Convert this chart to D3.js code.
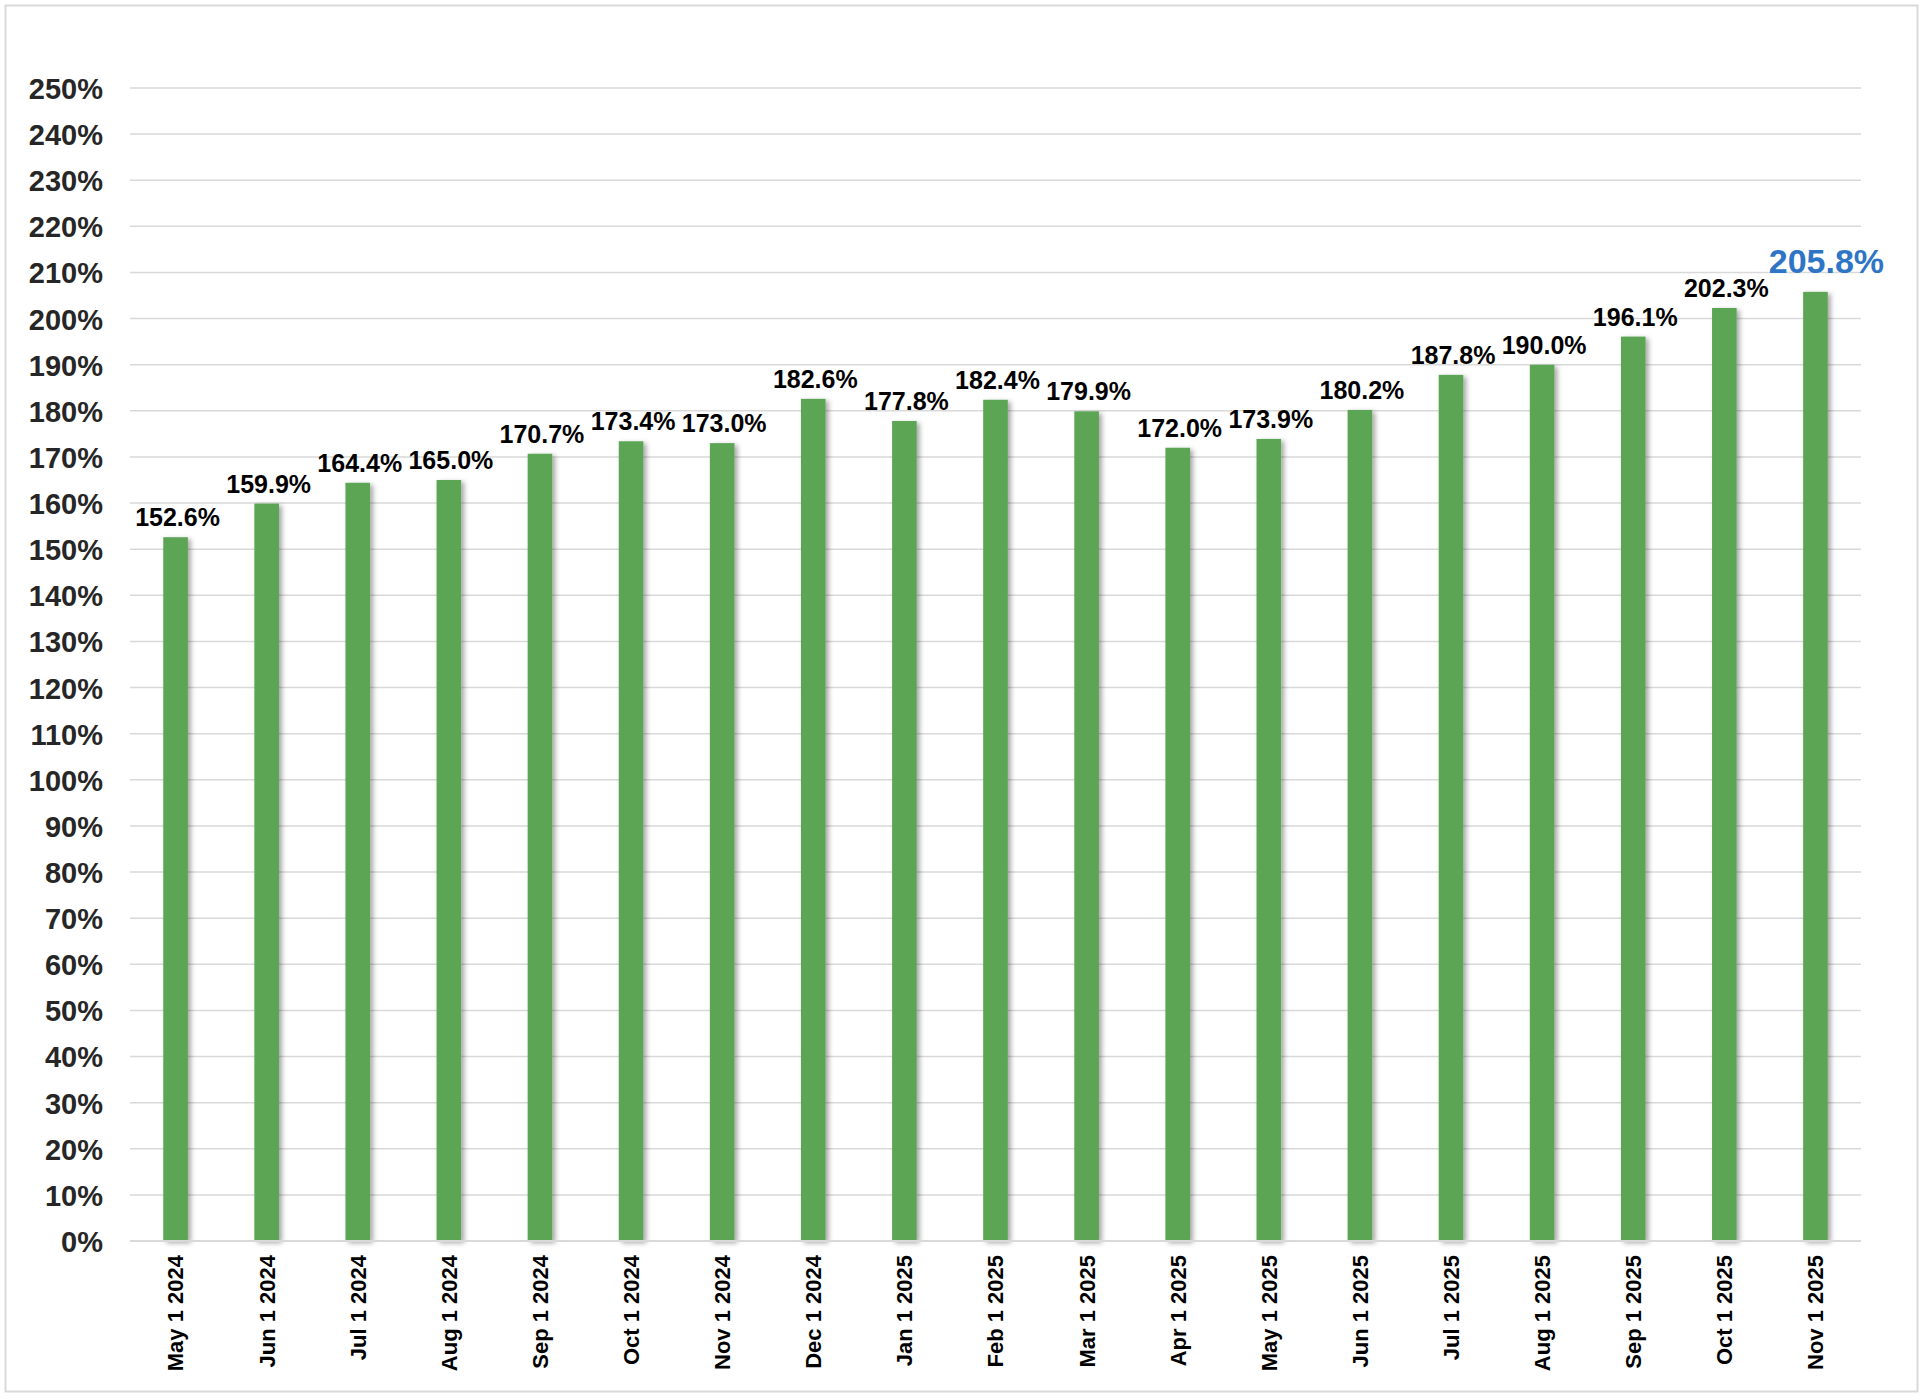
<!DOCTYPE html>
<html>
<head>
<meta charset="utf-8">
<script src="https://cdn.jsdelivr.net/npm/d3@7"></script>
<style>
  html, body { margin: 0; padding: 0; background: #fff; }
  svg { display: block; }
  text { font-family: "Liberation Sans", Arial, sans-serif; font-weight: bold; }
</style>
</head>
<body>
<svg id="chart" width="1926" height="1400"></svg>
<script>
const categories = ["May 1 2024","Jun 1 2024","Jul 1 2024","Aug 1 2024","Sep 1 2024","Oct 1 2024","Nov 1 2024","Dec 1 2024","Jan 1 2025","Feb 1 2025","Mar 1 2025","Apr 1 2025","May 1 2025","Jun 1 2025","Jul 1 2025","Aug 1 2025","Sep 1 2025","Oct 1 2025","Nov 1 2025"];
const values = [152.6,159.9,164.4,165.0,170.7,173.4,173.0,182.6,177.8,182.4,179.9,172.0,173.9,180.2,187.8,190.0,196.1,202.3,205.8];
const yTicks = [0,10,20,30,40,50,60,70,80,90,100,110,120,130,140,150,160,170,180,190,200,210,220,230,240,250];

const svg = d3.select("#chart");
const W = 1926, H = 1400;
const plot = { left: 130, right: 1861, top: 88, bottom: 1241 };

// frame
svg.append("rect").attr("x", 5.5).attr("y", 5.5).attr("width", 1912).attr("height", 1386)
  .attr("fill", "#fff").attr("stroke", "#d9d9d9").attr("stroke-width", 2);

const defs = svg.append("defs");
const f = defs.append("filter").attr("id", "shadow").attr("x", "-50%").attr("y", "-10%").attr("width", "200%").attr("height", "120%");
f.append("feDropShadow").attr("dx", 3).attr("dy", 2).attr("stdDeviation", 2.5)
  .attr("flood-color", "#000").attr("flood-opacity", 0.35);

const x = d3.scaleBand().domain(categories).range([plot.left, plot.right])
  .paddingInner(0.73).paddingOuter(0.365);
const y = d3.scaleLinear().domain([0, 250]).range([plot.bottom, plot.top]);

// gridlines
svg.append("g").selectAll("line").data(yTicks).join("line")
  .attr("x1", plot.left).attr("x2", plot.right)
  .attr("y1", d => y(d)).attr("y2", d => y(d))
  .attr("stroke", "#d9d9d9").attr("stroke-width", 1.5);

// y axis labels
const yAxis = d3.axisLeft(y).tickValues(yTicks).tickSize(0).tickPadding(0).tickFormat(d => d + "%");
const gy = svg.append("g").attr("transform", "translate(103,0)").call(yAxis);
gy.select(".domain").remove();
gy.selectAll("text").attr("font-size", 29).attr("fill", "#262626")
  .attr("font-family", "Liberation Sans, Arial, sans-serif").attr("font-weight", "bold")
  .attr("dy", "0.36em");

// bars
svg.append("g").selectAll("rect").data(values).join("rect")
  .attr("x", (d, i) => x(categories[i]))
  .attr("width", x.bandwidth())
  .attr("y", d => y(d))
  .attr("height", d => y(0) - y(d))
  .attr("fill", "#5BA555")
  .attr("filter", "url(#shadow)");

// axis line
svg.append("line").attr("x1", plot.left).attr("x2", plot.right)
  .attr("y1", y(0)).attr("y2", y(0)).attr("stroke", "#d9d9d9").attr("stroke-width", 2);

// x axis labels
const xAxis = d3.axisBottom(x).tickSize(0).tickPadding(0);
const gx = svg.append("g").attr("transform", `translate(0,${y(0)})`).call(xAxis);
gx.select(".domain").remove();
gx.selectAll("text")
  .attr("font-size", 22).attr("fill", "#000")
  .attr("font-family", "Liberation Sans, Arial, sans-serif").attr("font-weight", "bold")
  .attr("text-anchor", "end")
  .attr("transform", "translate(0,14) rotate(-90)")
  .attr("x", 0).attr("y", 0).attr("dy", "0.36em");

// data labels
const last = values.length - 1;
svg.append("g").selectAll("text").data(values).join("text")
  .attr("x", (d, i) => x(categories[i]) + x.bandwidth() / 2 + (i === last ? 11 : 2))
  .attr("y", (d, i) => y(d) - (i === last ? 19 : 11))
  .attr("text-anchor", "middle")
  .attr("font-size", (d, i) => i === last ? 34 : 25)
  .attr("fill", (d, i) => i === last ? "#2E75C6" : "#000")
  .text(d => d.toFixed(1) + "%");
</script>
</body>
</html>
